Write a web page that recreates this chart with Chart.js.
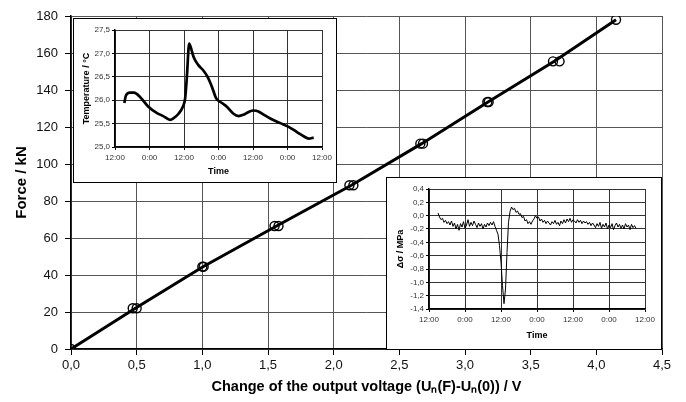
<!DOCTYPE html>
<html>
<head>
<meta charset="utf-8">
<script src="https://cdn.jsdelivr.net/npm/chart.js@4/dist/chart.umd.min.js"></script>
<style>
  html, body { margin: 0; padding: 0; background: #fff; }
  #wrap { position: relative; width: 686px; height: 402px; }
  #main { position: absolute; left: 0; top: 0; }
  .inset { position: absolute; background: #fff; border: 1px solid #000; }
  .inset canvas { display: block; }
</style>
</head>
<body>
<div id="wrap">
  <canvas id="main" width="686" height="402"></canvas>
  <div class="inset" style="left:73px; top:18px; width:262px; height:163px;">
    <canvas id="temp" width="262" height="163"></canvas>
  </div>
  <div class="inset" style="left:386px; top:177px; width:274px; height:171px;">
    <canvas id="stress" width="274" height="171"></canvas>
  </div>
</div>
<script>
// ---- Main chart data ----
const voltageChange = [0.00, 0.47, 0.50, 1.00, 1.01, 1.55, 1.58, 2.12, 2.15, 2.66, 2.68, 3.17, 3.18, 3.67, 3.72, 4.15];
const forceKN       = [0,    22,   22,   44.5, 44.5, 66.5, 66.5, 88.5, 88.5, 111,  111,  133.5,133.5,155.5,155.5,178];
// calibration line through the load steps
const fitVoltage = [0, 0.49, 1.005, 1.565, 2.135, 2.67, 3.175, 3.68, 4.15];
const fitForce   = [0, 22,   44.5,  66.5,  88.5,  111,  133.5, 155.5, 178];

// ---- Inset 1: temperature vs time (hours from 12:00 of day 1) ----
const tempTime  = [3.25, 3.8, 5.2, 6.6, 8.7, 11.6, 14.5, 16.8, 19.2, 20.3, 22.1, 23.6, 24.4, 25.0, 25.8, 26.4, 27.3, 29.0, 30.8, 32.2, 33.7, 35.2, 37.2, 38.9, 41.2, 43.0, 44.7, 46.5, 48.2, 49.9, 51.7, 54.0, 57.5, 60.4, 63.3, 65.6, 67.4, 69.1];
const tempValue = [25.94, 26.1, 26.16, 26.16, 26.07, 25.86, 25.73, 25.66, 25.58, 25.61, 25.71, 25.86, 26.04, 26.5, 27.21, 27.12, 26.93, 26.75, 26.63, 26.5, 26.29, 26.04, 25.94, 25.86, 25.71, 25.66, 25.69, 25.75, 25.78, 25.76, 25.69, 25.61, 25.51, 25.43, 25.32, 25.23, 25.18, 25.2];

// ---- Inset 2: stress change vs time ----
const stressTime = [3.0,3.5,4.0,4.5,5.0,5.5,6.0,6.5,7.0,7.5,8.0,8.5,9.0,9.5,10.0,10.5,11.0,11.5,12.0,12.5,13.0,13.5,14.0,14.5,15.0,15.5,16.0,16.5,17.0,17.5,18.0,18.5,19.0,19.5,20.0,20.5,21.0,21.5,22.0,22.5,23.0,23.5,24.0,24.5,25.0,25.5,26.0,26.5,27.0,27.5,28.0,28.5,29.0,29.5,30.0,30.5,31.0,31.5,32.0,32.5,33.0,33.5,34.0,34.5,35.0,35.5,36.0,36.5,37.0,37.5,38.0,38.5,39.0,39.5,40.0,40.5,41.0,41.5,42.0,42.5,43.0,43.5,44.0,44.5,45.0,45.5,46.0,46.5,47.0,47.5,48.0,48.5,49.0,49.5,50.0,50.5,51.0,51.5,52.0,52.5,53.0,53.5,54.0,54.5,55.0,55.5,56.0,56.5,57.0,57.5,58.0,58.5,59.0,59.5,60.0,60.5,61.0,61.5,62.0,62.5,63.0,63.5,64.0,64.5,65.0,65.5,66.0,66.5,67.0,67.5,68.0,68.5,69.0];
const stressValue = [0.04,-0.02,-0.06,-0.04,-0.10,-0.07,-0.12,-0.09,-0.14,-0.08,-0.16,-0.11,-0.20,-0.13,-0.22,-0.12,-0.17,-0.09,-0.19,-0.14,-0.06,-0.16,-0.10,-0.15,-0.08,-0.13,-0.18,-0.11,-0.16,-0.12,-0.20,-0.13,-0.17,-0.11,-0.15,-0.10,-0.14,-0.09,-0.16,-0.22,-0.28,-0.45,-0.70,-1.05,-1.32,-1.10,-0.55,-0.10,0.06,0.13,0.09,0.11,0.05,0.07,0.02,0.03,-0.03,-0.01,-0.08,-0.06,-0.12,-0.09,-0.13,-0.08,-0.05,0.00,-0.04,-0.02,-0.08,-0.05,-0.10,-0.07,-0.12,-0.08,-0.11,-0.14,-0.09,-0.12,-0.07,-0.13,-0.10,-0.15,-0.08,-0.12,-0.06,-0.11,-0.05,-0.09,-0.04,-0.10,-0.06,-0.08,-0.11,-0.06,-0.10,-0.07,-0.12,-0.08,-0.11,-0.09,-0.13,-0.10,-0.15,-0.11,-0.14,-0.18,-0.12,-0.16,-0.10,-0.19,-0.13,-0.17,-0.11,-0.20,-0.14,-0.18,-0.12,-0.21,-0.15,-0.11,-0.17,-0.13,-0.19,-0.14,-0.20,-0.12,-0.17,-0.14,-0.21,-0.13,-0.18,-0.15,-0.19];

// ---- Tick labels ----
const timeTickLabels = ['12:00', '0:00'];

const pairs = (xs, ys) => xs.map((x, i) => ({ x: x, y: ys[i] }));
const comma = (v, d) => Number(v).toFixed(d).replace('.', ',');
const timeLabel = v => timeTickLabels[Math.round(v / 12) % 2];

Chart.defaults.font.family = "'Liberation Sans', Arial, sans-serif";
Chart.defaults.color = '#000';
Chart.defaults.animation = false;

function fixSize(w, h) {
  return function (scale) {
    if (w !== null) scale.width = w;
    if (h !== null) scale.height = h;
  };
}

// ---- Main chart ----
new Chart(document.getElementById('main'), {
  type: 'scatter',
  data: {
    datasets: [
      {
        type: 'line',
        data: pairs(fitVoltage, fitForce),
        borderColor: '#000',
        borderWidth: 3,
        pointRadius: 0,
        tension: 0,
        fill: false,
        order: 2
      },
      {
        data: pairs(voltageChange, forceKN),
        borderColor: '#000',
        backgroundColor: 'rgba(0,0,0,0)',
        borderWidth: 1.4,
        pointRadius: 4.5,
        pointStyle: 'circle',
        order: 1
      }
    ]
  },
  options: {
    responsive: false,
    devicePixelRatio: 1,
    layout: { padding: { left: 0, top: 16, right: 24, bottom: 6 } },
    plugins: { legend: { display: false }, tooltip: { enabled: false } },
    scales: {
      x: {
        type: 'linear', min: 0, max: 4.5,
        afterFit: fixSize(null, 47),
        ticks: { stepSize: 0.5, padding: 3, font: { size: 13 }, color: '#111', callback: v => comma(v, 1), maxRotation: 0 },
        grid: { color: '#555', lineWidth: 1, tickLength: 6, tickColor: '#000' },
        border: { color: '#000', width: 1.5 },
        title: { display: true, text: 'Change of the output voltage (Uₙ(F)-Uₙ(0)) / V', font: { size: 14.5, weight: 'bold' }, padding: { top: 0, bottom: 0 }, color: '#000' }
      },
      y: {
        type: 'linear', min: 0, max: 180,
        afterFit: fixSize(71, null),
        ticks: { stepSize: 20, padding: 7, font: { size: 13 }, color: '#111' },
        grid: { color: '#555', lineWidth: 1, tickLength: 6, tickColor: '#000' },
        border: { color: '#000', width: 1.5 },
        title: { display: true, text: 'Force / kN', font: { size: 15, weight: 'bold' }, padding: { top: 13, bottom: 0 }, color: '#000' }
      }
    }
  }
});

// ---- Inset 1: temperature ----
new Chart(document.getElementById('temp'), {
  type: 'line',
  data: {
    datasets: [{
      data: pairs(tempTime, tempValue),
      borderColor: '#000',
      borderWidth: 2.7,
      pointRadius: 0,
      cubicInterpolationMode: 'monotone',
      fill: false
    }]
  },
  options: {
    responsive: false,
    devicePixelRatio: 1,
    layout: { padding: { left: 0, top: 11, right: 14, bottom: 2 } },
    plugins: { legend: { display: false }, tooltip: { enabled: false } },
    scales: {
      x: {
        type: 'linear', min: 0, max: 72,
        afterFit: fixSize(null, 33),
        ticks: { stepSize: 12, padding: 3, font: { size: 8 }, color: '#333', callback: timeLabel, maxRotation: 0, autoSkip: false },
        grid: { color: '#333', lineWidth: 1, tickLength: 3, tickColor: '#000' },
        border: { color: '#000', width: 1.5 },
        title: { display: true, text: 'Time', font: { size: 9, weight: 'bold' }, padding: { top: 0, bottom: 3 }, color: '#000' }
      },
      y: {
        type: 'linear', min: 25, max: 27.5,
        afterFit: fixSize(41, null),
        ticks: { stepSize: 0.5, padding: 2, font: { size: 8 }, color: '#333', callback: v => comma(v, 1) },
        grid: { color: '#333', lineWidth: 1, tickLength: 3, tickColor: '#000' },
        border: { color: '#000', width: 1.5 },
        title: { display: true, text: 'Temperature / °C', font: { size: 9, weight: 'bold' }, padding: { top: 7, bottom: 0 }, color: '#000' }
      }
    }
  }
});

// ---- Inset 2: stress ----
new Chart(document.getElementById('stress'), {
  type: 'line',
  data: {
    datasets: [{
      data: pairs(stressTime, stressValue),
      borderColor: '#000',
      borderWidth: 1,
      pointRadius: 0,
      tension: 0,
      fill: false
    }]
  },
  options: {
    responsive: false,
    devicePixelRatio: 1,
    layout: { padding: { left: 0, top: 11, right: 16, bottom: 2 } },
    plugins: { legend: { display: false }, tooltip: { enabled: false } },
    scales: {
      x: {
        type: 'linear', min: 0, max: 72,
        afterFit: fixSize(null, 38),
        ticks: { stepSize: 12, padding: 3, font: { size: 8 }, color: '#333', callback: timeLabel, maxRotation: 0, autoSkip: false },
        grid: { color: '#333', lineWidth: 1, tickLength: 3, tickColor: '#000' },
        border: { color: '#000', width: 1.5 },
        title: { display: true, text: 'Time', font: { size: 9, weight: 'bold' }, padding: { top: 0, bottom: 6 }, color: '#000' }
      },
      y: {
        type: 'linear', min: -1.4, max: 0.4,
        afterFit: fixSize(42, null),
        ticks: { stepSize: 0.2, padding: 2, font: { size: 8 }, color: '#333', callback: v => comma(v, 1) },
        grid: { color: '#333', lineWidth: 1, tickLength: 3, tickColor: '#000' },
        border: { color: '#000', width: 1.5 },
        title: { display: true, text: 'Δσ / MPa', font: { size: 9, weight: 'bold' }, padding: { top: 8, bottom: 0 }, color: '#000' }
      }
    }
  }
});
</script>
</body>
</html>
